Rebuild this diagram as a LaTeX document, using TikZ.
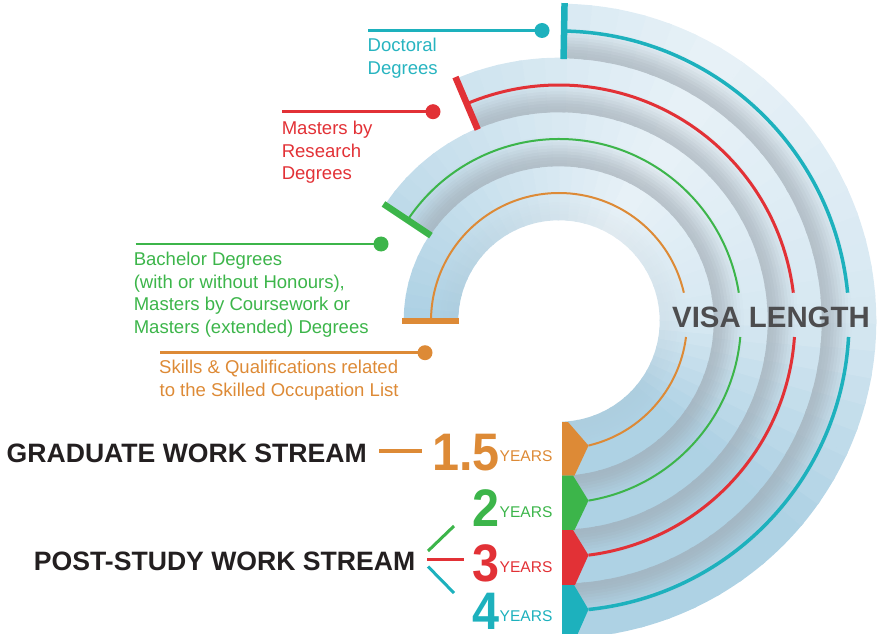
\documentclass[tikz,border=0pt]{standalone}
\usepackage{graphicx}
\usepackage{fontspec}
\setmainfont{Liberation Sans}
\definecolor{cteal}{HTML}{1DB1BD}
\definecolor{cred}{HTML}{E23136}
\definecolor{cgreen}{HTML}{3CB54A}
\definecolor{corange}{HTML}{DD8A36}
\definecolor{tealtxt}{HTML}{27B4C0}
\definecolor{bandB}{HTML}{A8CEE2}
\definecolor{bandW}{HTML}{F0F6FA}
\definecolor{shad}{HTML}{9CA6AF}
\definecolor{inkc}{HTML}{231F20}
\definecolor{visac}{HTML}{4D4D4F}
\newcommand{\numtxt}[1]{\scalebox{0.92}[1]{#1}}
\tikzset{
  lbl/.style={anchor=base west, inner sep=0pt, font=\fontsize{18.6}{22}\selectfont},
  stream/.style={anchor=base west, inner sep=0pt, font=\fontsize{26.7}{30}\selectfont\bfseries, text=inkc},
  num/.style={anchor=base east, inner sep=0pt, font=\fontsize{53}{56}\selectfont\bfseries},
  yrs/.style={anchor=base west, inner sep=0pt, font=\fontsize{15.6}{18}\selectfont},
  dotn/.style={circle, inner sep=0pt, minimum size=15bp},
  lead/.style={line width=2.5bp},
  conn/.style={line width=3bp},
}
\begin{document}
\begin{tikzpicture}[x=1bp,y=1bp]
\useasboundingbox (0,0) rectangle (878,-634);
% ---------- shaded bands ----------
\begin{scope}
\clip (0,10) rectangle (890,-321) (562,-321) rectangle (890,-650);
\begin{scope}[shift={(559,-321)}]
\foreach \rin/\ang/\smax in {101/180/0.10, 155/146.3/0.62, 209/113/0.62, 263/89/0.62} {
  \pgfmathtruncatemacro\nseg{ceil((\ang+90)/5)}
  \pgfmathsetmacro\dth{(\ang+90)/\nseg}
  \foreach \i in {1,...,\nseg} {
    \pgfmathsetmacro\tha{-90+(\i-1)*\dth}
    \pgfmathsetmacro\thb{min(\tha+\dth+0.8,\ang)}
    \pgfmathsetmacro\thm{\tha+\dth/2}
    \pgfmathsetmacro\fb{(\thm < (-40)) ? 0.92 : ((\thm < 0) ? (0.92-(\thm+40)/40*0.56) : ((\thm < 60) ? (0.36-\thm/60*0.24) : (0.12+(\thm-60)/120*0.83)))}
    \pgfmathtruncatemacro\fpc{100*\fb}
    \colorlet{basec}{bandB!\fpc!bandW}
    \foreach \j in {0,...,17} {
      \pgfmathsetmacro\rr{\rin+3*\j+1.5}
      \pgfmathsetmacro\mq{max(0,1-((\j+0.5)/18)/0.62)}
      \pgfmathtruncatemacro\wp{100*\smax*\mq*\mq*(3-2*\mq)}
      \colorlet{cellc}{shad!\wp!basec}
      \draw[cellc, line width=3.6bp] (\tha:\rr) arc[start angle=\tha, end angle=\thb, radius=\rr];
    }
  }
}
\end{scope}
\end{scope}
% ---------- ticks and coloured arcs ----------
\begin{scope}[shift={(559,-321)}]
\draw[corange, line width=5.7bp] (180:100) -- (180:157);
\draw[cgreen, line width=6.5bp] (146.3:154) -- (146.3:211);
\draw[cred, line width=6.5bp] (113:208) -- (113:265);
\draw[cteal, line width=6.5bp] (89:262) -- (89:318);
\foreach \r/\ang/\col/\lw in {128/180/corange/2, 182/146.3/cgreen/2, 236/113/cred/3, 290/89/cteal/3.5} {
  \pgfmathsetmacro\ta{asin(28.3/\r)}
  \pgfmathsetmacro\tb{-asin(16/\r)}
  \pgfmathsetmacro\te{-90+asin(29.5/\r)}
  \draw[\col, line width=\lw bp] (\ang:\r) arc[start angle=\ang, end angle=\ta, radius=\r];
  \draw[\col, line width=\lw bp] (\tb:\r) arc[start angle=\tb, end angle=\te, radius=\r];
}
\end{scope}
% ---------- tabs ----------
\fill[corange] (562,-422) -- (568,-422) -- (588.5,-445.6) -- (574.5,-475.5) -- (562,-475.5) -- cycle;
\fill[cgreen] (562,-475.5) -- (573,-475.5) -- (588.5,-500.6) -- (574.5,-530) -- (562,-530) -- cycle;
\fill[cred] (562,-530) -- (573,-530) -- (588.5,-555.2) -- (575,-585) -- (562,-585) -- cycle;
\fill[cteal] (562,-585) -- (574,-585) -- (588.5,-609.5) -- (575,-640) -- (562,-640) -- cycle;
% ---------- VISA LENGTH ----------
\node[anchor=base west, inner sep=0pt, font=\fontsize{29.5}{32}\selectfont\bfseries, text=visac] (visa) at (672,-327.5) {VISA LENGTH};
% ---------- category labels ----------
\coordinate (lteal) at (368,-30.5);
\node[dotn, fill=cteal] (dteal) at (542,-30.5) {};
\draw[lead, cteal] (lteal) -- (dteal.center);
\node[lbl, text=tealtxt] (doc1) at (367.5,-51.7) {Doctoral};
\node[lbl, text=tealtxt] (doc2) at (367.5,-74.2) {Degrees};

\coordinate (lred) at (282,-111.7);
\node[dotn, fill=cred] (dred) at (433,-111.7) {};
\draw[lead, cred] (lred) -- (dred.center);
\node[lbl, text=cred] (mr1) at (281.6,-135) {Masters by};
\node[lbl, text=cred] (mr2) at (281.6,-157.5) {Research};
\node[lbl, text=cred] (mr3) at (281.6,-180) {Degrees};

\coordinate (lgreen) at (135.5,-244);
\node[dotn, fill=cgreen] (dgreen) at (381,-244) {};
\draw[lead, cgreen] (lgreen) -- (dgreen.center);
\node[lbl, text=cgreen] (ba1) at (133.6,-265.5) {Bachelor Degrees};
\node[lbl, text=cgreen] (ba2) at (133.6,-288) {(with or without Honours),};
\node[lbl, text=cgreen] (ba3) at (133.6,-310.5) {Masters by Coursework or};
\node[lbl, text=cgreen] (ba4) at (133.6,-333) {Masters (extended) Degrees};

\coordinate (lorange) at (160,-352.7);
\node[dotn, fill=corange] (dorange) at (425,-352.7) {};
\draw[lead, corange] (lorange) -- (dorange.center);
\node[lbl, text=corange] (sk1) at (159,-373.5) {Skills \& Qualifications related};
\node[lbl, text=corange] (sk2) at (159.4,-396) {to the Skilled Occupation List};
% ---------- streams ----------
\node[stream] (grad) at (6.5,-462) {GRADUATE WORK STREAM};
\node[stream] (post) at (33.8,-570) {POST-STUDY WORK STREAM};
% ---------- years ----------
\node[num, text=corange] (n15) at (500,-470.5) {\numtxt{1.5}};
\node[yrs, text=corange] (y15) at (499.5,-461) {YEARS};
\node[num, text=cgreen] (n2) at (500,-526) {\numtxt{2}};
\node[yrs, text=cgreen] (y2) at (499.5,-517) {YEARS};
\node[num, text=cred] (n3) at (500,-581.5) {\numtxt{3}};
\node[yrs, text=cred] (y3) at (499.5,-572) {YEARS};
\node[num, text=cteal] (n4) at (500,-629.5) {\numtxt{4}};
\node[yrs, text=cteal] (y4) at (499.5,-621) {YEARS};
% ---------- stream connectors ----------
\coordinate (ga) at (379,-451);
\coordinate (gb) at (422,-451);
\draw[conn, corange, line width=3.5bp] (ga) -- (gb);
\coordinate (pg1) at (428,-551);
\coordinate (pg2) at (454,-526);
\coordinate (pr1) at (427,-559);
\coordinate (pr2) at (464,-559);
\coordinate (pt1) at (428,-566.5);
\coordinate (pt2) at (454,-593);
\draw[conn, cgreen] (pg1) -- (pg2);
\draw[conn, cred] (pr1) -- (pr2);
\draw[conn, cteal] (pt1) -- (pt2);
\end{tikzpicture}
\end{document}
